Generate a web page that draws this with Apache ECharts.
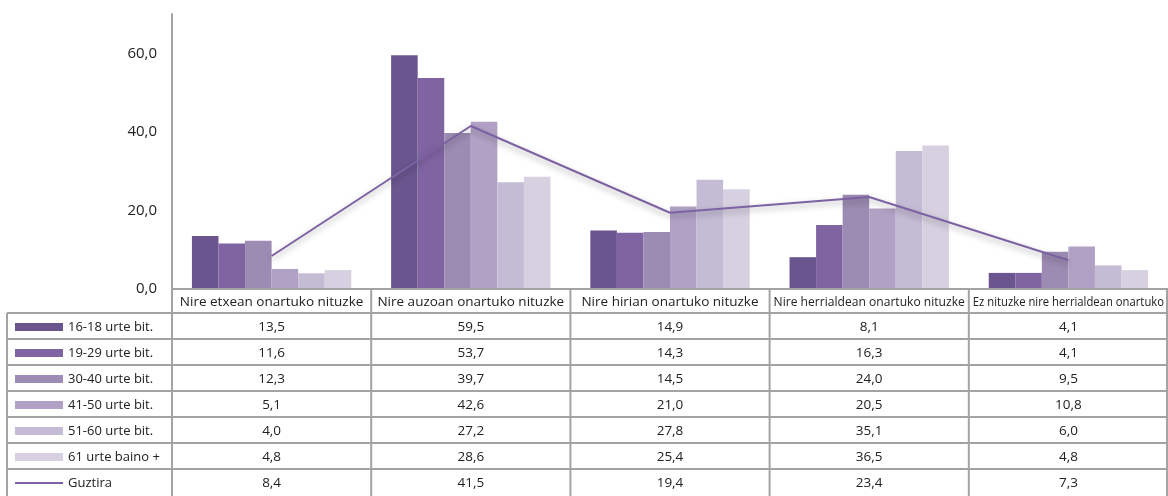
<!DOCTYPE html>
<html><head><meta charset="utf-8">
<script src="https://cdn.jsdelivr.net/npm/echarts@6/dist/echarts.min.js"></script>
<style>html,body{margin:0;padding:0;background:#fff}#c{width:1168px;height:496px}</style>
</head><body><div id="c"></div>
<script>
const categories = ['Nire etxean onartuko nituzke','Nire auzoan onartuko nituzke','Nire hirian onartuko nituzke','Nire herrialdean onartuko nituzke','Ez nituzke nire herrialdean onartuko'];
const barNames = ['16-18 urte bit.','19-29 urte bit.','30-40 urte bit.','41-50 urte bit.','51-60 urte bit.','61 urte baino +'];
const lineName = 'Guztira';
const v1618 = [13.5, 59.5, 14.9, 8.1, 4.1];
const v1929 = [11.6, 53.7, 14.3, 16.3, 4.1];
const v3040 = [12.3, 39.7, 14.5, 24.0, 9.5];
const v4150 = [5.1, 42.6, 21.0, 20.5, 10.8];
const v5160 = [4.0, 27.2, 27.8, 35.1, 6.0];
const v61 = [4.8, 28.6, 25.4, 36.5, 4.8];
const vGuztira = [8.4, 41.5, 19.4, 23.4, 7.3];
const yTicks = [0, 20, 40, 60];

const barData = [v1618, v1929, v3040, v4150, v5160, v61];
const barColors = ['#6b558e','#8064a2','#9c8bb2','#b1a2c5','#c4bbd4','#d6d0e0'];
const lineColor = '#7d62a3';
const gridColor = '#a3a3a3';
const FONT = 'Open Sans';
const fmt = v => v.toFixed(1).replace('.', ',');

const chart = echarts.init(document.getElementById('c'), null, {renderer: 'canvas'});
const series = barData.map((d, i) => ({
  name: barNames[i], type: 'bar', data: d, barGap: '0%', barCategoryGap: '20%',
  itemStyle: {color: barColors[i]}, z: 2
}));
series.push({
  name: lineName, type: 'line', data: vGuztira, symbol: 'none',
  lineStyle: {color: lineColor, width: 2, shadowBlur: 6, shadowColor: 'rgba(0,0,0,0.35)', shadowOffsetY: 3},
  z: 3
});

chart.setOption({
  animation: false,
  grid: {left: 172, right: 0, top: 14, bottom: 207, containLabel: false},
  xAxis: {type: 'category', data: categories, axisLine: {show: false}, axisTick: {show: false}, axisLabel: {show: false}, splitLine: {show: false}},
  yAxis: {type: 'value', min: 0, max: 70, interval: 20,
    axisLine: {show: true, lineStyle: {color: gridColor, width: 2}},
    axisTick: {show: false}, splitLine: {show: false},
    axisLabel: {showMaxLabel: false, margin: 15, fontFamily: FONT, fontSize: 15, color: '#222',
      formatter: v => yTicks.includes(v) ? fmt(v) : ''}
  },
  series
});

const measure = (() => {
  const ctx = document.createElement('canvas').getContext('2d');
  return (t, size) => { ctx.font = size + 'px "' + FONT + '"'; return ctx.measureText(t).width; };
})();

// table under the chart
const x0 = chart.convertToPixel({xAxisIndex: 0}, 0);
const x1 = chart.convertToPixel({xAxisIndex: 0}, 1);
const bw = x1 - x0;
const yBase = chart.convertToPixel({yAxisIndex: 0}, 0);
const headerH = 24, rowH = 26, tableLeft = 7, W = 1168;
const els = [];
const lineSty = {stroke: gridColor, lineWidth: 2};
const colEdges = [];
for (let i = 0; i <= categories.length; i++) colEdges.push(Math.min(x0 - bw / 2 + i * bw, W - 1));
els.push({type: 'line', shape: {x1: colEdges[0], y1: yBase, x2: W, y2: yBase}, style: lineSty, z: 10});
const nRows = barNames.length + 1;
const rowTop = yBase + headerH;
for (let r = 0; r < nRows; r++) {
  const y = rowTop + r * rowH;
  els.push({type: 'line', shape: {x1: tableLeft, y1: y, x2: W, y2: y}, style: lineSty, z: 10});
}
els.push({type: 'line', shape: {x1: tableLeft, y1: rowTop, x2: tableLeft, y2: 496}, style: lineSty, z: 10});
colEdges.forEach(x => els.push({type: 'line', shape: {x1: x, y1: yBase, x2: x, y2: 496}, style: lineSty, z: 10}));
// headers
const HFS = 13.5;
categories.forEach((c, i) => {
  const w = measure(c, HFS);
  const sx = Math.min(1, (bw - 8) / w);
  els.push({type: 'text', x: x0 + i * bw, y: yBase + headerH / 2 + 1, scaleX: sx,
    style: {text: c, fontFamily: FONT, fontSize: HFS, fill: '#222', align: 'center', verticalAlign: 'middle'}, z: 11});
});
// rows
const allRows = barData.concat([vGuztira]);
const allNames = barNames.concat([lineName]);
allRows.forEach((row, r) => {
  const yc = rowTop + r * rowH + rowH / 2 + 1;
  if (r < barNames.length) {
    els.push({type: 'rect', shape: {x: 15, y: yc - 4, width: 48, height: 8}, style: {fill: barColors[r]}, z: 11});
  } else {
    els.push({type: 'line', shape: {x1: 15, y1: yc, x2: 63, y2: yc}, style: {stroke: lineColor, lineWidth: 2}, z: 11});
  }
  els.push({type: 'text', x: 68, y: yc, style: {text: allNames[r], fontFamily: FONT, fontSize: 13, fill: '#222', align: 'left', verticalAlign: 'middle'}, z: 11});
  row.forEach((v, i) => {
    els.push({type: 'text', x: x0 + i * bw, y: yc, style: {text: fmt(v), fontFamily: FONT, fontSize: 13.5, fill: '#222', align: 'center', verticalAlign: 'middle'}, z: 11});
  });
});
chart.setOption({graphic: {elements: els}});
</script>
</body></html>
